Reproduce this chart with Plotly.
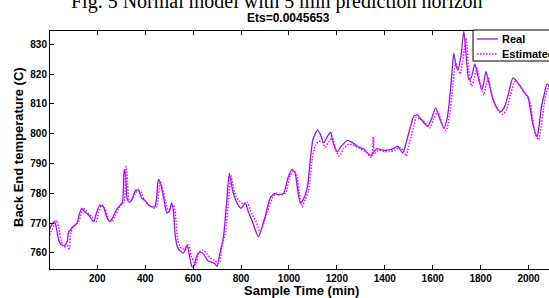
import plotly.graph_objects as go

# ---- data ----
real_t = [1, 10, 22, 30, 40, 50, 65, 75, 80, 90, 100, 115, 125, 135, 145, 160, 175, 185, 195, 210,
          225, 240, 252, 265, 280, 295, 305, 312, 318, 325, 335, 345, 360, 372, 385, 400, 415, 430, 440, 447,
          455, 465, 478, 490, 500, 510, 518, 525, 535, 548, 560, 575, 585, 595, 602, 615, 630, 645, 660, 675,
          690, 700, 712, 726, 740, 751, 760, 768, 785, 800, 818, 830, 850, 872, 885, 900, 922, 940, 955, 978,
          995, 1013, 1025, 1035, 1048, 1060, 1077, 1090, 1100, 1119, 1130, 1145, 1160, 1174, 1185, 1202, 1220, 1244, 1265, 1286,
          1313, 1341, 1368, 1390, 1411, 1435, 1454, 1475, 1486, 1496, 1510, 1521, 1537, 1550, 1565, 1579, 1595, 1613, 1630, 1647,
          1660, 1668, 1680, 1688, 1697, 1705, 1718, 1730, 1740, 1751, 1762, 1776, 1790, 1805, 1813, 1822, 1835, 1850, 1873, 1885,
          1900, 1915, 1935, 1946, 1956, 1970, 1981, 1998, 2008, 2019, 2036, 2045, 2052, 2065, 2077, 2090]
real_v = [768, 769.5, 770.5, 768, 764, 762.8, 762.7, 764, 767, 768, 769, 770, 773, 775, 774, 773, 771.5, 770.5, 773, 776,
          775.5, 772, 770.5, 772, 774.5, 776, 777, 788, 786, 778, 777, 778, 781, 781, 778.5, 777.5, 776, 775.5, 775.5, 778,
          784.8, 783, 778, 773.5, 774, 776.7, 774, 766, 762, 760.5, 760, 762.7, 759, 755.5, 755.3, 759, 760.3, 759.5, 757.5, 757,
          756.5, 755.5, 760, 765, 777, 786.8, 783, 780, 776.5, 775, 776.7, 774, 770, 765.4, 768, 772, 778.4, 780, 779.5, 780,
          785, 788, 787, 782, 776.7, 778, 782, 792, 798, 801.2, 800, 797, 799, 800.5, 797, 794, 796, 797.8, 797, 795.8,
          794.8, 792.8, 795, 794.5, 794.5, 795, 795.8, 793.5, 796, 799, 803, 805.9, 806.3, 805, 803.5, 802.4, 805, 808.7, 805, 801.9,
          805, 809.6, 820, 827, 823, 821.4, 826, 834.4, 826, 818, 819, 823.4, 819, 814.7, 817, 820.8, 817, 812, 808, 807.4,
          809, 813, 818.7, 818, 817, 815.5, 814, 812.4, 808, 803, 799, 803, 808, 813, 816.6, 816]

est_t = [1, 12, 30, 40, 50, 60, 75, 82, 90, 100, 110, 125, 140, 150, 165, 180, 195, 205, 218, 232,
         248, 260, 275, 290, 305, 312, 320, 326, 333, 345, 355, 370, 382, 395, 410, 425, 440, 450, 462, 472,
         485, 497, 508, 518, 526, 535, 545, 558, 568, 582, 592, 603, 612, 622, 640, 655, 670, 690, 705, 712,
         720, 735, 748, 758, 768, 778, 792, 808, 826, 840, 860, 880, 895, 910, 932, 948, 963, 985, 1005, 1020,
         1032, 1043, 1055, 1068, 1082, 1098, 1110, 1125, 1140, 1152, 1168, 1182, 1195, 1210, 1228, 1250, 1272, 1295, 1320, 1345,
         1352, 1358, 1375, 1400, 1420, 1443, 1462, 1480, 1490, 1500, 1510, 1522, 1530, 1545, 1560, 1575, 1588, 1605, 1622, 1640,
         1656, 1670, 1680, 1696, 1705, 1715, 1728, 1740, 1750, 1762, 1772, 1785, 1798, 1813, 1822, 1832, 1845, 1860, 1880, 1893,
         1908, 1925, 1943, 1955, 1968, 1980, 1990, 2008, 2018, 2028, 2042, 2052, 2062, 2075, 2090]
est_v = [766, 768, 771, 768, 764, 762, 762.5, 761, 767, 768.5, 769.5, 771, 775, 774.5, 773, 772, 770.5, 773.5, 776, 775,
         771, 770.5, 772.5, 775, 776.5, 777, 789, 784, 778, 778, 779.5, 781, 780.5, 778, 776.5, 775.5, 775, 776, 784, 782,
         777, 774, 775, 776, 773, 765, 762, 761.5, 761, 762.8, 759, 757, 756, 760, 761, 760, 758.5, 757.5, 756.5, 757,
         762, 767, 778, 786, 782, 779, 777.5, 776.5, 777, 774, 771, 767, 770, 774, 778.5, 780, 779.5, 780, 786, 787.5,
         786.5, 780, 775.5, 778, 781, 792, 796, 797.5, 797, 795.5, 797.5, 798.5, 794.5, 792.5, 795, 796.5, 796, 795, 794, 792,
         799, 793.5, 794.5, 794, 794, 794.5, 795.5, 794, 792.5, 796, 799, 802.5, 805.5, 805, 804.5, 803, 802, 805, 807.5, 803,
         801, 806, 813, 824, 822, 820, 826, 832, 822, 816, 818, 822, 817, 813, 816, 819, 814, 810, 807, 806.5,
         808, 813, 817.5, 817, 815.5, 814, 813, 810, 805, 800, 798, 802, 808, 814, 817]

x_ticks = [200, 400, 600, 800, 1000, 1200, 1400, 1600, 1800, 2000]
y_ticks = [760, 770, 780, 790, 800, 810, 820, 830]

FONT = "Liberation Sans, Arial, sans-serif"
REAL_COLOR = "#7F1FF0"
EST_COLOR = "#FF00FF"
EST_DASH = "1.5px,1.5px"

fig = go.Figure()
fig.add_trace(go.Scatter(x=real_t, y=real_v, mode="lines", name="Real", showlegend=False,
                         line=dict(color=REAL_COLOR, width=1.3, shape="spline", smoothing=0.6)))
fig.add_trace(go.Scatter(x=est_t, y=est_v, mode="lines", name="Estimated", showlegend=False,
                         line=dict(color=EST_COLOR, width=1.5, dash=EST_DASH, shape="spline", smoothing=0.6)))

L, T, B = 50, 31, 29
W, H = 549, 298
pw, ph = W - L, H - T - B

def px(x):
    return (x - L) / pw

def py(y):
    return (H - B - y) / ph

shapes = [
    # legend box
    dict(type="rect", xref="paper", yref="paper", x0=px(473), x1=px(570), y0=py(61), y1=py(30),
         fillcolor="white", line=dict(color="black", width=1), layer="above"),
    dict(type="line", xref="paper", yref="paper", x0=px(477), x1=px(498), y0=py(39), y1=py(39),
         line=dict(color=REAL_COLOR, width=1.3), layer="above"),
    dict(type="line", xref="paper", yref="paper", x0=px(477), x1=px(498), y0=py(54), y1=py(54),
         line=dict(color=EST_COLOR, width=1.5, dash=EST_DASH), layer="above"),
]

fig.update_layout(
    width=W, height=H,
    margin=dict(l=L, r=0, t=T, b=B, pad=0, autoexpand=False),
    paper_bgcolor="white", plot_bgcolor="white",
    font=dict(family=FONT, color="black"),
    showlegend=False,
    shapes=shapes,
    xaxis=dict(range=[2.5, 2085.5], tickvals=x_ticks, ticks="inside", ticklen=4,
               tickcolor="black", showline=True, linecolor="black", linewidth=1,
               mirror="ticks", showgrid=False, zeroline=False, automargin=False,
               tickfont=dict(size=10, weight="bold", family=FONT)),
    yaxis=dict(range=[754.63, 834.46], tickvals=y_ticks, ticks="inside", ticklen=4,
               tickcolor="black", showline=True, linecolor="black", linewidth=1,
               mirror=False, showgrid=False, zeroline=False, automargin=False,
               tickfont=dict(size=10, weight="bold", family=FONT)),
    annotations=[
        dict(text="Sample Time (min)", xref="paper", yref="paper", x=px(301), y=py(290),
             xanchor="center", yanchor="middle", showarrow=False,
             font=dict(size=13, weight="bold", family=FONT)),
        dict(text="Back End temperature (C)", xref="paper", yref="paper", x=px(18), y=py(147),
             xanchor="center", yanchor="middle", showarrow=False, textangle=-90,
             font=dict(size=13, weight="bold", family=FONT)),
        dict(text="Real", xref="paper", yref="paper", x=px(500), y=py(39),
             xanchor="left", yanchor="middle", showarrow=False,
             font=dict(size=11, weight="bold", family=FONT)),
        dict(text="Estimated", xref="paper", yref="paper", x=px(500), y=py(54),
             xanchor="left", yanchor="middle", showarrow=False,
             font=dict(size=11, weight="bold", family=FONT)),
        dict(text="Ets=0.0045653", xref="paper", yref="paper", x=px(288), y=py(18),
             xanchor="center", yanchor="middle", showarrow=False,
             font=dict(size=12, weight="bold", family=FONT)),
        dict(text="Fig. 5 Normal model with 5 min prediction horizon", xref="paper", yref="paper",
             x=px(277), y=py(2), xanchor="center", yanchor="middle", showarrow=False,
             font=dict(size=20, family="Liberation Serif, Times New Roman, serif")),
    ],
)

fig.write_html(
    "out.html",
    config={"displayModeBar": False},
    post_script="document.body.style.margin='0';document.body.style.overflow='hidden';",
)
